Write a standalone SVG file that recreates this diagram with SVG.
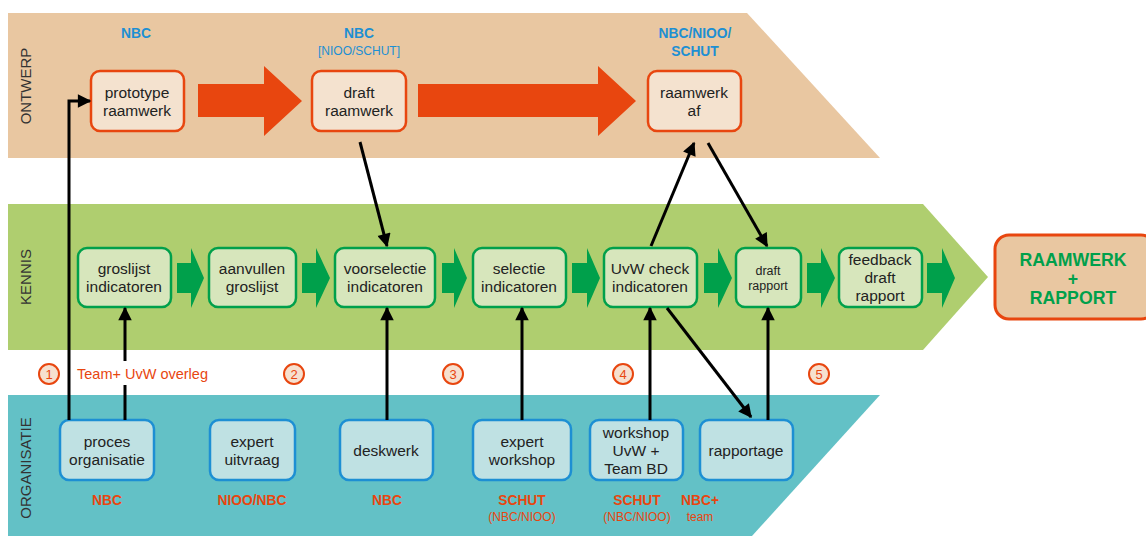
<svg xmlns="http://www.w3.org/2000/svg" width="1146" height="536" viewBox="0 0 1146 536">
<style>
text{font-family:"Liberation Sans",Arial,sans-serif}
.band{font-size:15px;fill:#333}
.t{font-size:15.5px;fill:#222;text-anchor:middle}
.ob{fill:#f4e2cf;stroke:#e8460f;stroke-width:2.5}
.kb{fill:#d7e6bc;stroke:#00a04b;stroke-width:2.5}
.gb{fill:#bfe1e3;stroke:#1d8fd3;stroke-width:2.5}
.blue{font-size:13.8px;font-weight:bold;fill:#1d8fd3;text-anchor:middle}
.org{font-size:13.8px;font-weight:bold;fill:#e8460f;text-anchor:middle}
.orgs{font-size:12px;fill:#e8460f;text-anchor:middle}
.c line,.c polyline{stroke:#000;stroke-width:3;fill:none}
.num circle{fill:#f6e0cf;stroke:#e8460f;stroke-width:2}
.num text{font-size:13px;fill:#e8460f;text-anchor:middle}
.ga{fill:#00a04b}
</style>
<defs>
<marker id="ah" viewBox="0 0 10 10" refX="9" refY="5" markerWidth="5" markerHeight="4.5" orient="auto" markerUnits="strokeWidth">
<path d="M0,0 L10,5 L0,10 Z" fill="#000"/>
</marker>
</defs>
<!-- bands -->
<polygon points="8,13 747,13 880,158 8,158" fill="#e9c7a1"/>
<polygon points="8,204 923,204 988,277 923,350 8,350" fill="#afce6f"/>
<polygon points="8,395 880,395 752,536 8,536" fill="#63c1c6"/>
<text class="band" transform="translate(31,86) rotate(-90)" text-anchor="middle">ONTWERP</text>
<text class="band" transform="translate(31,277) rotate(-90)" text-anchor="middle">KENNIS</text>
<text class="band" transform="translate(31,468) rotate(-90)" text-anchor="middle">ORGANISATIE</text>
<!-- big orange arrows -->
<polygon points="198,84 264,84 264,66 302,101 264,136 264,117 198,117" fill="#e8460f"/>
<polygon points="418,84 598,84 598,66 636,101 598,136 598,117 418,117" fill="#e8460f"/>
<!-- green arrows -->
<g class="ga">
<polygon points="177,263 191,263 191,248 204,278 191,308 191,293 177,293"/>
<polygon points="302,263 316,263 316,248 330,278 316,308 316,293 302,293"/>
<polygon points="442,263 454,263 454,248 467,278 454,308 454,293 442,293"/>
<polygon points="572,263 587,263 587,248 600,278 587,308 587,293 572,293"/>
<polygon points="704,263 718,263 718,248 732,278 718,308 718,293 704,293"/>
<polygon points="807,263 821,263 821,248 835,278 821,308 821,293 807,293"/>
<polygon points="927,263 942,263 942,248 955,278 942,308 942,293 927,293"/>
</g>
<!-- top labels -->
<text class="blue" x="136" y="38">NBC</text>
<text class="blue" x="359" y="38">NBC</text>
<text class="blue" x="359" y="55" style="font-weight:normal;font-size:12px">[NIOO/SCHUT]</text>
<text class="blue" x="695" y="38">NBC/NIOO/</text>
<text class="blue" x="695" y="56">SCHUT</text>
<!-- ontwerp nodes -->
<g id="prototype"><rect class="ob" x="91" y="71" width="93" height="60" rx="9"/><text class="t" x="137" y="98">prototype</text><text class="t" x="137" y="116">raamwerk</text></g>
<g id="draft-raamwerk"><rect class="ob" x="312" y="71" width="94" height="60" rx="9"/><text class="t" x="359" y="98">draft</text><text class="t" x="359" y="116">raamwerk</text></g>
<g id="raamwerk-af"><rect class="ob" x="648" y="71" width="93" height="60" rx="9"/><text class="t" x="694" y="98">raamwerk</text><text class="t" x="694" y="116">af</text></g>
<!-- kennis nodes -->
<g id="groslijst"><rect class="kb" x="78" y="248" width="93" height="59" rx="9"/><text class="t" x="124" y="274">groslijst</text><text class="t" x="124" y="292">indicatoren</text></g>
<g id="aanvullen"><rect class="kb" x="209" y="248" width="87" height="59" rx="9"/><text class="t" x="252" y="274">aanvullen</text><text class="t" x="252" y="292">groslijst</text></g>
<g id="voorselectie"><rect class="kb" x="335" y="248" width="100" height="59" rx="9"/><text class="t" x="385" y="274">voorselectie</text><text class="t" x="385" y="292">indicatoren</text></g>
<g id="selectie"><rect class="kb" x="473" y="248" width="93" height="59" rx="9"/><text class="t" x="519" y="274">selectie</text><text class="t" x="519" y="292">indicatoren</text></g>
<g id="uvw-check"><rect class="kb" x="604" y="248" width="93" height="59" rx="9"/><text class="t" x="650" y="274">UvW check</text><text class="t" x="650" y="292">indicatoren</text></g>
<g id="draft-rapport"><rect class="kb" x="736" y="248" width="65" height="59" rx="9"/><text class="t" x="768" y="275" style="font-size:12.5px">draft</text><text class="t" x="768" y="290" style="font-size:12.5px">rapport</text></g>
<g id="feedback"><rect class="kb" x="839" y="248" width="83" height="59" rx="9"/><text class="t" x="880" y="265">feedback</text><text class="t" x="880" y="283">draft</text><text class="t" x="880" y="301">rapport</text></g>
<!-- final -->
<g id="raamwerk-rapport"><rect x="995" y="235" width="160" height="84" rx="14" fill="#e9c7a1" stroke="#e8460f" stroke-width="3"/>
<text x="1073" y="266" style="font-size:17.7px;font-weight:bold;fill:#00a04b" text-anchor="middle">RAAMWERK</text>
<text x="1073" y="285" style="font-size:17.7px;font-weight:bold;fill:#00a04b" text-anchor="middle">+</text>
<text x="1073" y="304" style="font-size:17.7px;font-weight:bold;fill:#00a04b" text-anchor="middle">RAPPORT</text></g>
<!-- organisatie nodes -->
<g id="proces"><rect class="gb" x="60" y="420" width="94" height="60" rx="9"/><text class="t" x="107" y="447">proces</text><text class="t" x="107" y="465">organisatie</text></g>
<g id="expert-uitvraag"><rect class="gb" x="210" y="420" width="85" height="60" rx="9"/><text class="t" x="252" y="447">expert</text><text class="t" x="252" y="465">uitvraag</text></g>
<g id="deskwerk"><rect class="gb" x="340" y="420" width="93" height="60" rx="9"/><text class="t" x="386" y="456">deskwerk</text></g>
<g id="expert-workshop"><rect class="gb" x="473" y="420" width="98" height="60" rx="9"/><text class="t" x="522" y="447">expert</text><text class="t" x="522" y="465">workshop</text></g>
<g id="workshop-uvw"><rect class="gb" x="590" y="420" width="93" height="60" rx="9"/><text class="t" x="636" y="438">workshop</text><text class="t" x="636" y="456">UvW +</text><text class="t" x="636" y="474">Team BD</text></g>
<g id="rapportage"><rect class="gb" x="700" y="420" width="93" height="60" rx="9"/><text class="t" x="746" y="456">rapportage</text></g>
<!-- org labels -->
<text class="org" x="107" y="505">NBC</text>
<text class="org" x="252" y="505">NIOO/NBC</text>
<text class="org" x="387" y="505">NBC</text>
<text class="org" x="522" y="505">SCHUT</text>
<text class="orgs" x="522" y="521">(NBC/NIOO)</text>
<text class="org" x="637" y="505">SCHUT</text>
<text class="orgs" x="637" y="521">(NBC/NIOO)</text>
<text class="org" x="700" y="505" text-anchor="start">NBC+</text>
<text class="orgs" x="700" y="521" text-anchor="start">team</text>
<!-- numbers -->
<g class="num">
<circle cx="49" cy="374" r="10"/><text x="49" y="379">1</text>
<circle cx="294" cy="374" r="10"/><text x="294" y="379">2</text>
<circle cx="453" cy="374" r="10"/><text x="453" y="379">3</text>
<circle cx="623" cy="374" r="10"/><text x="623" y="379">4</text>
<circle cx="819" cy="374" r="10"/><text x="819" y="379">5</text>
</g>
<text x="77" y="379" style="font-size:14.5px;fill:#e8460f">Team+ UvW overleg</text>
<!-- connectors -->
<g class="c">
<polyline points="69,420 69,101 90,101" marker-end="url(#ah)"/>
<line x1="125" y1="420" x2="125" y2="385"/>
<line x1="125" y1="361" x2="125" y2="308" marker-end="url(#ah)"/>
<line x1="360" y1="142" x2="387" y2="246" marker-end="url(#ah)"/>
<line x1="387" y1="420" x2="387" y2="308" marker-end="url(#ah)"/>
<line x1="522" y1="420" x2="522" y2="308" marker-end="url(#ah)"/>
<line x1="650" y1="420" x2="650" y2="308" marker-end="url(#ah)"/>
<line x1="651" y1="246" x2="694" y2="143" marker-end="url(#ah)"/>
<line x1="708" y1="143" x2="767" y2="246" marker-end="url(#ah)"/>
<line x1="667" y1="308" x2="751" y2="417" marker-end="url(#ah)"/>
<line x1="768" y1="420" x2="768" y2="308" marker-end="url(#ah)"/>
</g>
</svg>
